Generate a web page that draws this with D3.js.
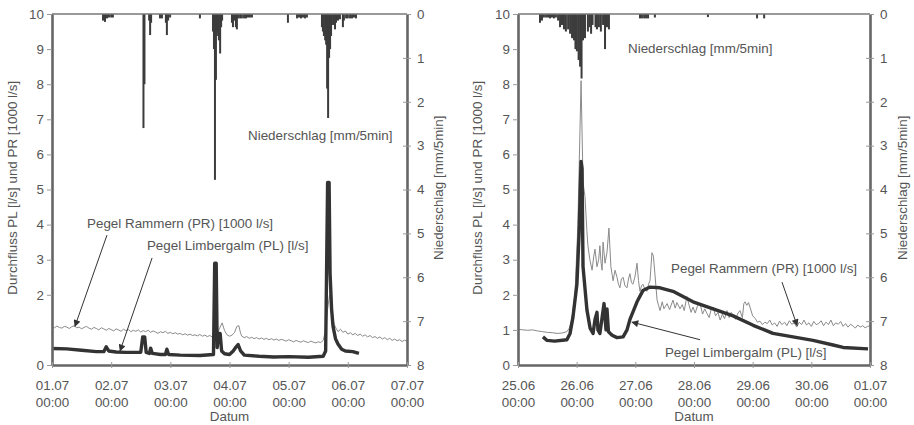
<!DOCTYPE html>
<html>
<head>
<meta charset="utf-8">
<script src="https://cdn.jsdelivr.net/npm/d3@7"></script>
<style>
body { margin: 0; background: #fff; }
svg text { font-family: "Liberation Sans", Arial, sans-serif; fill: #555; }
</style>
</head>
<body>
<div id="chart"></div>
<script>
// tick labels
var leftDateLabels = ['01.07', '02.07', '03.07', '04.07', '05.07', '06.07', '07.07'];
var rightDateLabels = ['25.06', '26.06', '27.06', '28.06', '29.06', '30.06', '01.07'];
var timeLabel = '00:00';
var dayHours = [0, 24, 48, 72, 96, 120, 144];
var leftFlowTicks = [0, 2, 3, 4, 5, 6, 7, 8, 9, 10];
var rightFlowTicks = [0, 1, 2, 3, 4, 5, 6, 7, 8, 9, 10];
var rainTicks = [0, 1, 2, 3, 4, 5, 6, 7, 8];

// [hours since first day, 1000 l/s]
var leftPR = [[0,1.09],[1,1.06],[2,1.11],[3,1.07],[4,1.05],[5,1.1],[6,1.08],[7,1.04],[8,1.09],[9,1.12],[10,1.06],[11,1.08],[12,1.03],[13,1.07],[14,1.1],[15,1.05],[16,1.02],[17,1.07],[18,1.04],[19,1.0],[20,1.06],[21,1.03],[22,0.99],[23,1.04],[24,1.01],[25,0.97],[26,1.03],[27,1.0],[28,0.96],[29,1.02],[30,0.98],[31,1.01],[32,0.95],[33,0.99],[34,0.96],[35,1.0],[36,0.94],[37,0.98],[38,0.95],[39,0.99],[40,0.93],[41,0.97],[42,0.94],[43,0.9],[44,0.95],[45,0.92],[46,0.96],[47,0.9],[48,0.93],[49,0.89],[50,0.92],[51,0.88],[52,0.9],[53,0.86],[54,0.89],[55,0.85],[56,0.88],[57,0.84],[58,0.86],[59,0.83],[60,0.87],[61,0.82],[62,0.85],[63,0.81],[64,0.84],[65,0.8],[66,0.83],[67,0.88],[68,1.05],[69,1.2],[70,0.98],[71,0.86],[72,0.82],[73,0.85],[74,0.92],[75,1.1],[75.8,1.12],[76.5,0.9],[77,0.82],[78,0.78],[79,0.81],[80,0.76],[81,0.79],[82,0.75],[83,0.78],[84,0.74],[85,0.77],[86,0.73],[87,0.76],[88,0.72],[89,0.75],[90,0.71],[91,0.74],[92,0.7],[93,0.73],[94,0.71],[95,0.68],[96,0.72],[97,0.69],[98,0.66],[99,0.7],[100,0.67],[101,0.65],[102,0.69],[103,0.66],[104,0.64],[105,0.68],[106,0.65],[107,0.63],[108,0.66],[109,0.64],[110,0.7],[111,1.0],[111.8,1.6],[112.6,2.0],[113.2,1.75],[113.8,1.3],[114.5,1.15],[115.2,1.05],[116,0.95],[117,1.02],[118,0.93],[119,0.97],[120,0.88],[121,0.92],[122,0.86],[123,0.9],[124,0.84],[125,0.88],[126,0.82],[127,0.86],[128,0.8],[129,0.84],[130,0.78],[131,0.81],[132,0.76],[133,0.8],[134,0.74],[135,0.78],[136,0.72],[137,0.76],[138,0.7],[139,0.74],[140,0.69],[141,0.72],[142,0.67],[143,0.71],[144,0.68]];

// [hours, l/s shown on same axis]
var leftPL = [[0,0.47],[6,0.46],[12,0.42],[18,0.38],[21,0.38],[22,0.52],[23,0.4],[26,0.37],[30,0.36],[36,0.36],[36.8,0.8],[37.6,0.8],[38.2,0.36],[39.5,0.33],[40,0.48],[40.7,0.33],[44,0.3],[46,0.3],[46.6,0.45],[47.3,0.3],[52,0.28],[60,0.27],[65.5,0.3],[66,2.9],[66.6,2.9],[67,0.5],[67.6,0.9],[68.2,0.9],[68.8,0.4],[70,0.32],[72,0.3],[73.5,0.4],[74.5,0.5],[75.5,0.58],[76.5,0.4],[78,0.28],[84,0.25],[90,0.23],[96,0.24],[104,0.22],[110,0.25],[111,0.4],[111.8,5.2],[112.4,5.2],[112.8,2.6],[113.4,1.6],[114,1.1],[115,0.75],[116,0.6],[117.5,0.45],[119,0.4],[122,0.38],[124.5,0.33]];

// [hours, mm/5min]
var leftRain = [[20.7,0.15],[21.5,0.18],[22.3,0.1],[23.1,0.08],[24,0.08],[24.7,0.08],[37.1,2.6],[37.5,1.6],[39.4,0.15],[39.8,0.48],[40.2,0.2],[43.8,0.1],[44.6,0.1],[46.2,0.2],[46.6,0.48],[47.1,0.15],[47.9,0.08],[60,0.1],[65.3,0.4],[65.7,0.8],[66.1,3.78],[66.5,1.5],[66.9,0.5],[67.3,0.4],[67.7,0.6],[68.2,0.9],[68.6,0.3],[69,0.15],[73,0.2],[73.4,0.3],[74,0.15],[74.6,0.3],[75,0.35],[75.5,0.1],[76.3,0.1],[77,0.1],[77.9,0.1],[78.7,0.1],[79.5,0.08],[80.3,0.08],[81.1,0.08],[95.7,0.2],[99.4,0.1],[100.2,0.08],[101,0.1],[101.8,0.08],[102.6,0.1],[103.4,0.08],[109.5,0.3],[109.9,0.4],[110.3,0.5],[110.8,0.6],[111.2,0.7],[111.6,1.7],[112,2.37],[112.4,1.0],[112.8,0.8],[113.2,0.5],[114,0.25],[114.8,0.35],[115.2,0.2],[116,0.15],[116.8,0.12],[118,0.3],[118.4,0.15],[119.3,0.1],[120,0.1],[120.9,0.1],[121.7,0.1],[122.5,0.08],[123.3,0.1]];

var rightPR = [[0,1.02],[2,1.0],[4,0.99],[6,1.0],[8,0.97],[10,0.95],[12,0.93],[14,0.92],[16,0.9],[18,0.91],[20,0.95],[21,1.05],[22,1.3],[23.3,2.0],[24.5,4.0],[25.8,8.1],[26.6,5.2],[27.4,4.8],[28.2,3.8],[28.6,3.4],[29.4,3.0],[30.3,2.7],[31,3.1],[31.5,3.3],[32.3,2.8],[33,3.0],[33.5,3.4],[34,2.9],[34.4,2.7],[34.8,3.5],[35.6,2.9],[36.4,3.2],[37.2,3.9],[38,2.8],[38.9,2.4],[39.7,2.7],[40.5,2.5],[41.1,2.3],[41.7,2.2],[42.3,2.45],[43,2.5],[43.8,2.25],[44.6,2.2],[45.2,2.45],[45.8,2.6],[46.4,2.35],[47,2.3],[47.8,2.5],[48.7,2.9],[49.3,2.4],[49.9,2.1],[50.5,2.25],[51.1,2.3],[52,2.15],[52.8,2.1],[53.4,2.3],[54,2.4],[54.8,3.2],[55.4,3.1],[56,2.6],[56.9,1.85],[57.5,1.7],[58.1,1.55],[59,1.8],[59.7,1.6],[61,1.75],[62,1.58],[63.4,1.85],[64.3,1.62],[65,1.78],[66.3,1.6],[67.2,1.72],[68,1.55],[69.1,1.95],[70,1.7],[70.8,1.5],[71.6,1.65],[72.5,1.48],[73.5,1.7],[74.5,1.75],[75.5,1.45],[76.4,1.6],[77.3,1.47],[78.2,1.35],[79,1.58],[79.8,1.65],[80.8,1.4],[81.8,1.5],[82.7,1.28],[83.6,1.45],[84.5,1.32],[85.5,1.55],[86.4,1.35],[87.2,1.5],[88,1.42],[89,1.3],[90,1.48],[90.8,1.55],[91.8,1.35],[92.4,1.75],[92.9,1.8],[93.6,1.7],[94.3,1.78],[94.9,1.65],[96,1.4],[97,1.33],[98,1.22],[99,1.25],[100,1.15],[101,1.22],[102,1.18],[103,1.28],[104,1.14],[105,1.2],[106,1.1],[107,1.25],[108,1.15],[109,1.22],[110,1.12],[111,1.26],[112,1.16],[113,1.2],[114,1.08],[115,1.22],[116,1.15],[117,1.28],[118,1.14],[119,1.2],[120,1.1],[121,1.24],[122,1.15],[123,1.18],[124,1.26],[125,1.12],[126,1.22],[127,1.15],[128,1.28],[129,1.12],[130,1.2],[131,1.16],[132,1.24],[133,1.1],[134,1.18],[135,1.08],[136,1.16],[137,1.12],[138,1.05],[139,1.14],[140,1.08],[141,1.12],[142,1.06],[143,1.1],[144,1.12]];

var rightPL = [[10.2,0.8],[11.9,0.7],[15,0.68],[20,0.72],[21.3,0.9],[22.5,1.37],[24.1,2.3],[25,3.75],[25.8,5.8],[26.2,5.6],[26.6,2.8],[28.2,1.57],[29.5,1.05],[30.7,0.9],[31.5,1.3],[32.3,1.5],[32.7,1.0],[33.5,0.9],[35.2,1.75],[36,1.0],[36.4,1.6],[37,0.95],[38.5,0.85],[40.5,0.78],[43,0.8],[44.6,1.0],[45.8,1.3],[48.7,1.8],[51.1,2.12],[54,2.22],[58.1,2.2],[63.4,2.1],[71.6,1.8],[79.8,1.6],[88,1.4],[96.2,1.13],[104.3,0.9],[112.5,0.8],[120.7,0.7],[128.9,0.57],[133,0.5],[143.2,0.46]];

var rightRain = [[9,0.2],[9.8,0.15],[10.6,0.08],[11.5,0.08],[12.3,0.08],[13.1,0.1],[13.9,0.08],[14.7,0.1],[15.5,0.08],[16.4,0.15],[17.2,0.3],[18,0.25],[18.8,0.35],[19.6,0.4],[20.5,0.35],[21.3,0.45],[22.1,0.55],[22.9,0.6],[23.5,0.8],[24.1,0.85],[24.8,1.05],[25.4,1.2],[26,1.47],[26.6,0.6],[27.4,0.55],[28.6,0.4],[29.3,0.3],[29.9,0.45],[30.5,0.25],[31.7,0.3],[32.3,0.35],[33.1,0.3],[33.9,0.4],[34.8,0.25],[35.6,0.8],[36.4,0.3],[37.2,0.35],[49.9,0.1],[50.7,0.1],[51.6,0.1],[52.4,0.1],[53.2,0.1],[56,0.08],[77.7,0.07],[97.8,0.1],[100.7,0.1]];

var flowTitle = 'Durchfluss PL [l/s] und PR [1000 l/s]';
var rainTitle = 'Niederschlag [mm/5min]';
var xTitle = 'Datum';
var rainLabel = 'Niederschlag [mm/5min]';
var prLabel = 'Pegel Rammern (PR) [1000 l/s]';
var plLabel = 'Pegel Limbergalm (PL) [l/s]';

var width = 914, height = 425,
    plotTop = 14, plotBottom = 365,
    fontSize = 13.4;

var svg = d3.select('#chart').append('svg')
  .attr('width', width)
  .attr('height', height);

var defs = svg.append('defs');
defs.append('marker')
  .attr('id', 'arrow')
  .attr('viewBox', '0 0 10 10')
  .attr('refX', 9).attr('refY', 5)
  .attr('markerWidth', 9).attr('markerHeight', 7)
  .attr('markerUnits', 'userSpaceOnUse')
  .attr('orient', 'auto')
  .append('path').attr('d', 'M0,0 L10,5 L0,10 z').attr('fill', '#333');

drawPanel({
  id: 'l', left: 52, right: 407,
  dates: leftDateLabels, flowTicks: leftFlowTicks,
  pr: leftPR, pl: leftPL, rain: leftRain,
  // annotation anchors in data units [hours, flow]
  rainText: [79.5, 6.41], prText: [14.2, 3.9], plText: [38.5, 3.28],
  prArrow: [[22.3, 3.7], [9.3, 1.1]], plArrow: [[40.6, 3.05], [27.6, 0.4]],
  leftTitleX: 17, rightTitleX: 443
});

drawPanel({
  id: 'r', left: 518, right: 870,
  dates: rightDateLabels, flowTicks: rightFlowTicks,
  pr: rightPR, pl: rightPL, rain: rightRain,
  rainText: [45, 8.89], prText: [62.6, 2.62], plText: [60.1, 0.23],
  prArrow: [[108, 2.36], [114.2, 1.12]], plArrow: [[74.5, 0.72], [46.6, 1.22]],
  leftTitleX: 482, rightTitleX: 907
});

function drawPanel(p) {
  var x = d3.scaleLinear().domain([0, 144]).range([p.left, p.right]);
  var y = d3.scaleLinear().domain([0, 10]).range([plotBottom, plotTop]);
  var yr = d3.scaleLinear().domain([0, 8]).range([plotTop, plotBottom]);

  var g = svg.append('g');

  g.append('clipPath').attr('id', 'clip-' + p.id)
    .append('rect')
    .attr('x', p.left).attr('y', plotTop)
    .attr('width', p.right - p.left).attr('height', plotBottom - plotTop);

  var plot = g.append('g').attr('clip-path', 'url(#clip-' + p.id + ')');

  // rain bars hang from the top
  plot.selectAll('rect.rain')
    .data(p.rain)
    .enter().append('rect')
    .attr('class', 'rain')
    .attr('x', d => x(d[0]) - 1)
    .attr('width', d => Math.max(2, x(d[0] + 0.8) - x(d[0])))
    .attr('y', yr(0))
    .attr('height', d => yr(d[1]) - yr(0))
    .attr('fill', '#3c3c3c');

  var line = d3.line().x(d => x(d[0])).y(d => y(d[1]));

  plot.append('path').datum(p.pr)
    .attr('d', line)
    .attr('fill', 'none')
    .attr('stroke', '#8a8a8a')
    .attr('stroke-width', 1);

  plot.append('path').datum(p.pl)
    .attr('d', line)
    .attr('fill', 'none')
    .attr('stroke', '#333')
    .attr('stroke-width', 3.4)
    .attr('stroke-linejoin', 'round');

  // frame top
  g.append('line')
    .attr('x1', p.left).attr('x2', p.right)
    .attr('y1', plotTop).attr('y2', plotTop)
    .attr('stroke', '#777').attr('stroke-width', 1.5);

  // left axis
  var ax = g.append('g')
    .attr('transform', 'translate(' + p.left + ',0)')
    .call(d3.axisLeft(y).tickValues(p.flowTicks).tickSize(5).tickSizeOuter(0).tickPadding(3));

  // right axis
  var ar = g.append('g')
    .attr('transform', 'translate(' + p.right + ',0)')
    .call(d3.axisRight(yr).tickValues(rainTicks).tickSize(4).tickSizeOuter(0).tickPadding(6));
  ar.selectAll('.tick line').attr('x1', -4);

  // bottom axis
  var ab = g.append('g')
    .attr('transform', 'translate(0,' + plotBottom + ')')
    .call(d3.axisBottom(x).tickValues(dayHours).tickSize(3).tickSizeOuter(0).tickFormat(''));
  ab.selectAll('.tick line').attr('y1', -3);
  ab.selectAll('.tick').append('text')
    .attr('y', 25)
    .attr('text-anchor', 'middle')
    .text((d, i) => p.dates[i]);
  ab.selectAll('.tick').append('text')
    .attr('y', 42)
    .attr('text-anchor', 'middle')
    .text(timeLabel);

  [ax, ar, ab].forEach(function(a) {
    a.select('.domain').attr('stroke', '#666').attr('stroke-width', 2.6);
    a.selectAll('.tick line').attr('stroke', '#999');
    a.selectAll('text')
      .style('font-size', fontSize + 'px')
      .attr('fill', '#555');
  });

  // axis titles
  g.append('text')
    .attr('transform', 'translate(' + p.leftTitleX + ',' + y(5.05) + ') rotate(-90)')
    .attr('text-anchor', 'middle')
    .style('font-size', fontSize + 'px')
    .text(flowTitle);

  g.append('text')
    .attr('transform', 'translate(' + p.rightTitleX + ',' + y(5.05) + ') rotate(-90)')
    .attr('text-anchor', 'middle')
    .style('font-size', fontSize + 'px')
    .text(rainTitle);

  g.append('text')
    .attr('x', x(72)).attr('y', 421)
    .attr('text-anchor', 'middle')
    .style('font-size', fontSize + 'px')
    .text(xTitle);

  // series labels
  [[p.rainText, rainLabel], [p.prText, prLabel], [p.plText, plLabel]].forEach(function(t) {
    g.append('text')
      .attr('x', x(t[0][0])).attr('y', y(t[0][1]))
      .style('font-size', fontSize + 'px')
      .text(t[1]);
  });

  [p.prArrow, p.plArrow].forEach(function(a) {
    g.append('line')
      .attr('x1', x(a[0][0])).attr('y1', y(a[0][1]))
      .attr('x2', x(a[1][0])).attr('y2', y(a[1][1]))
      .attr('stroke', '#333').attr('stroke-width', 1)
      .attr('marker-end', 'url(#arrow)');
  });
}
</script>
</body>
</html>
